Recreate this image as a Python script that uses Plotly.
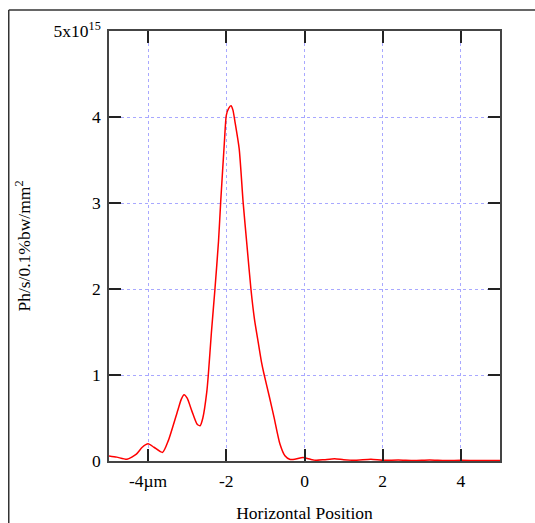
import plotly.graph_objects as go

x_um = [-5.0, -4.8, -4.54, -4.3, -4.15, -4.0, -3.85, -3.63, -3.48, -3.24, -3.15, -3.08, -3.0,
        -2.88, -2.75, -2.67, -2.6, -2.5, -2.46, -2.38, -2.29, -2.2, -2.14, -2.05, -2.0, -1.94,
        -1.88, -1.83, -1.78, -1.67, -1.57, -1.47, -1.37, -1.28, -1.18, -1.1, -1.04, -0.9, -0.78,
        -0.63, -0.5, -0.38, -0.25, -0.04, 0.15, 0.3, 0.5, 0.77, 1.0, 1.3, 1.7, 2.0, 2.4, 2.8,
        3.2, 3.6, 4.0, 4.5, 5.0]
flux_e15 = [0.058, 0.045, 0.02, 0.08, 0.16, 0.20, 0.16, 0.10, 0.24, 0.59, 0.72, 0.77, 0.73,
            0.58, 0.43, 0.41, 0.50, 0.80, 1.0, 1.5, 2.0, 2.55, 3.04, 3.7, 4.02, 4.1,
            4.13, 4.08, 3.95, 3.63, 3.01, 2.5, 2.0, 1.65, 1.37, 1.15, 1.02, 0.75, 0.51,
            0.2, 0.06, 0.02, 0.02, 0.04, 0.02, 0.008, 0.015, 0.027, 0.015, 0.008, 0.02, 0.008,
            0.012, 0.006, 0.012, 0.005, 0.008, 0.005, 0.005]
flux = [v * 1e15 for v in flux_e15]

x_tickvals = [-4, -2, 0, 2, 4]
x_ticktext = ["-4µm", "-2", "0", "2", "4"]
y_tickvals = [0, 1e15, 2e15, 3e15, 4e15, 5e15]
y_ticktext = ["0", "1", "2", "3", "4", "5x10<sup>15</sup>"]

W, H = 535, 523
L, R, T, B = 108.5, 500.5, 30.5, 461
pw, ph = R - L, B - T

fig = go.Figure(go.Scatter(x=x_um, y=flux, mode="lines",
                           line=dict(color="#ff0000", width=1.5, shape="spline", smoothing=0.6),
                           hoverinfo="skip"))

font = dict(family="Liberation Serif", size=17.5, color="#000")
axis_common = dict(showline=True, linecolor="#444", linewidth=1.5, mirror="ticks", ticks="inside",
                   ticklen=12, tickwidth=1.5, tickcolor="#222", showgrid=True, gridcolor="#a8a8ff",
                   griddash="dot", gridwidth=1, zeroline=False, tickfont=font)

fig.update_xaxes(range=[-5, 5], tickvals=x_tickvals, ticktext=x_ticktext, ticklabelstandoff=3,
                 title=dict(text="Horizontal Position", font=font, standoff=28), **axis_common)
fig.update_yaxes(range=[0, 5e15], tickvals=y_tickvals, ticktext=y_ticktext, ticklabelstandoff=3,
                 title=dict(text="Ph/s/0.1%bw/mm<sup>2</sup>", font=font, standoff=18), **axis_common)

def px2paper_x(p):
    return (p - L) / pw

def px2paper_y(p):
    return (B - p) / ph

fig.add_shape(type="line", xref="paper", yref="paper", x0=px2paper_x(8), x1=px2paper_x(540),
              y0=px2paper_y(9.5), y1=px2paper_y(9.5), line=dict(color="#333", width=1.5))
fig.add_shape(type="line", xref="paper", yref="paper", x0=px2paper_x(8), x1=px2paper_x(8),
              y0=px2paper_y(9.5), y1=px2paper_y(530), line=dict(color="#333", width=1.5))

fig.update_layout(width=W, height=H, margin=dict(l=L, r=W - R, t=T, b=H - B, autoexpand=False),
                  paper_bgcolor="white", plot_bgcolor="white", showlegend=False, font=font)

fig.write_html("out.html")
